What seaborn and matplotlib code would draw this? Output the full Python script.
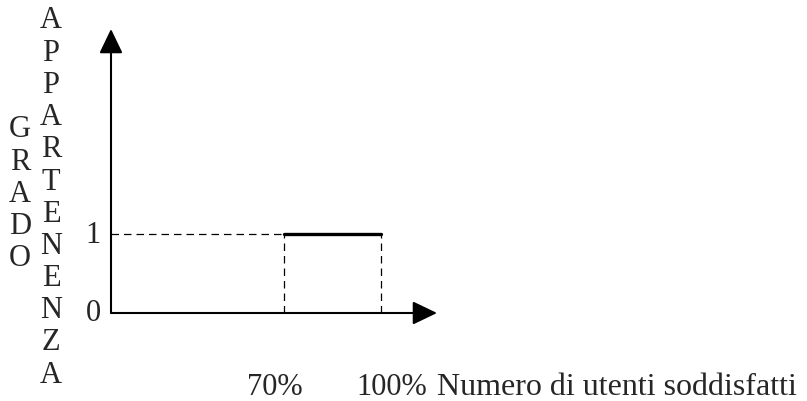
import matplotlib.pyplot as plt
import matplotlib.transforms as mtransforms
import pandas as pd
import seaborn as sns

# membership function: 1 between 70% and 100%
support_x = [70, 100]
membership = [1, 1]
y_ticks = [0, 1]
y_tick_labels = ["0", "1"]
x_tick_labels = ["70%", "100%"]
x_label = "Numero di utenti soddisfatti"
y_label_left = "GRADO"
y_label_right = "APPARTENENZA"

X_MIN, X_MAX = 16.5, 117.3
Y_MIN, Y_MAX = 0, 3.595


def main(output="out.png"):
    sns.set_theme(style="white")
    plt.rcParams["font.family"] = ["Liberation Serif", "DejaVu Serif"]

    fig = plt.figure(figsize=(8.07, 4.02), dpi=100)
    ax = fig.add_axes([111 / 807, 88 / 402, 326 / 807, 284 / 402])
    ax.set_xlim(X_MIN, X_MAX)
    ax.set_ylim(Y_MIN, Y_MAX)
    ax.axis("off")

    df = pd.DataFrame({"x": support_x, "y": membership})
    sns.lineplot(data=df, x="x", y="y", color="black", lw=2.4, ax=ax)

    dash = dict(color="black", lw=0.9, linestyle=(0, (6, 4)))
    ax.hlines(membership[0], X_MIN, support_x[0], **dash)
    ax.vlines(support_x, 0, membership, **dash)

    arrow = dict(arrowstyle="-|>,head_length=0.75,head_width=0.36",
                 color="black", lw=1.5, shrinkA=0, shrinkB=0, mutation_scale=20)
    ax.annotate("", xy=(X_MAX, 0), xytext=(X_MIN, 0), arrowprops=arrow,
                annotation_clip=False)
    ax.annotate("", xy=(X_MIN, Y_MAX), xytext=(X_MIN, 0), arrowprops=arrow,
                annotation_clip=False)

    # y tick labels
    for val, lab in zip(y_ticks, y_tick_labels):
        off = mtransforms.ScaledTranslation(-10 / 100, 0, fig.dpi_scale_trans)
        ax.text(X_MIN, val, lab, ha="right", va="center", fontsize=22,
                transform=ax.transData + off)

    # x tick labels, shifted a little from their lines
    for val, lab, dx in zip(support_x, x_tick_labels, [-9, 11]):
        off = mtransforms.ScaledTranslation(dx / 100, -74 / 100, fig.dpi_scale_trans)
        ax.text(val, 0, lab, ha="center", va="center", fontsize=22,
                transform=ax.transData + off)
    fig.text(437 / 807, 1 - 388 / 402, x_label, ha="left", va="center",
             fontsize=23)

    # stacked vertical letters
    step = 32.2
    for i, ch in enumerate(y_label_left):
        fig.text(20 / 807, 1 - (130 + i * step) / 402, ch, ha="center",
                 va="center", fontsize=22)
    for i, ch in enumerate(y_label_right):
        fig.text(51 / 807, 1 - (21 + i * step) / 402, ch, ha="center",
                 va="center", fontsize=22)

    fig.savefig(output, dpi=100)


if __name__ == "__main__":
    main()
